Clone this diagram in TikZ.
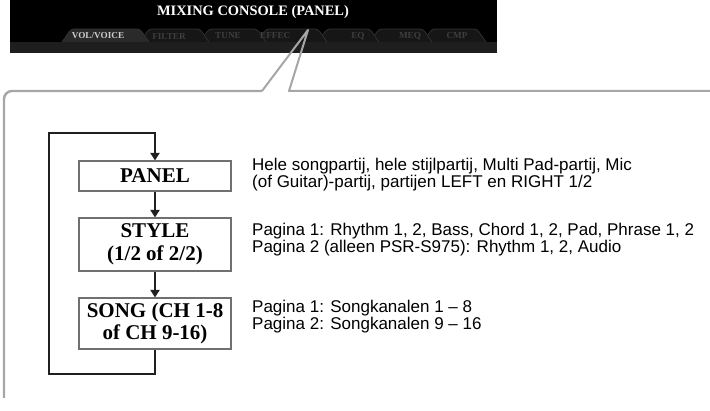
\documentclass[tikz,border=0pt]{standalone}
\usepackage{fontspec}
\setmainfont{Liberation Serif}
\newfontfamily\descfont{Liberation Sans}
\usetikzlibrary{arrows.meta}
\definecolor{framegray}{RGB}{166,166,166}
\definecolor{boxborder}{RGB}{112,112,112}
\definecolor{flowblack}{RGB}{35,31,32}
\definecolor{bandgray}{RGB}{30,30,30}
\definecolor{tabfill}{RGB}{22,22,22}
\definecolor{tabedge}{RGB}{48,48,48}
\definecolor{tabtext}{RGB}{62,62,62}
\definecolor{tabactive}{RGB}{42,42,42}
\definecolor{tabactivetext}{RGB}{205,205,205}

\tikzset{
    tabshape/.style={fill=tabfill, draw=tabedge, line width=0.8pt, rounded corners=3pt},
    tablabel/.style={text=tabtext, font=\fontsize{9.2}{10}\selectfont\bfseries, inner sep=0pt},
    modebox/.style={fill=white, draw=boxborder, line width=1.1pt, minimum width=152pt, align=center, inner sep=2pt, font=\fontsize{21}{22.5}\selectfont\bfseries},
    desc/.style={anchor=west, align=left, inner sep=0pt, font=\descfont\fontsize{17}{13.5}\selectfont},
    flow/.style={flowblack, line width=2.8pt, -{Triangle[length=7.5pt, width=9pt]}}
}

\begin{document}
\begin{tikzpicture}[x=1pt, y=-1pt]

% Page size
\useasboundingbox (0,0) rectangle (710,411);

% SCREEN STRIP
\fill[black] (10,0) rectangle (497,53);
\fill[bandgray] (10,42) rectangle (497,53);
\node[text=white, font=\fontsize{14.4}{15}\selectfont\bfseries] (title) at (253,12) {MIXING CONSOLE (PANEL)};

% Tabs (left to right, active one last)
\filldraw[tabshape] (423,42) -- (432,29) -- (477,29) -- (486,42);
\filldraw[tabshape] (370,42) -- (379,29) -- (423,29) -- (432,42);
\filldraw[tabshape] (318,42) -- (327,29) -- (370,29) -- (379,42);
\filldraw[tabshape] (257,42) -- (266,29) -- (318,29) -- (327,42);
\filldraw[tabshape] (200,42) -- (209,29) -- (257,29) -- (266,42);
\filldraw[tabshape] (140,42) -- (149,29) -- (200,29) -- (209,42);
\filldraw[tabshape, fill=tabactive] (62,42) -- (71,29) -- (140,29) -- (149,42);

\node[tablabel, text=tabactivetext] (tvol) at (98,36) {VOL/VOICE};
\node[tablabel] (tfilter) at (169,36) {FILTER};
\node[tablabel] (ttune) at (228,36) {TUNE};
\node[tablabel, anchor=west] (teffect) at (260,36) {EFFEC};
\node[tablabel] (teq) at (358,36) {EQ};
\node[tablabel] (tmeq) at (410,36) {MEQ};
\node[tablabel] (tcmp) at (457,36) {CMP};

% CALLOUT FRAME
\coordinate (apex) at (308,30);
\coordinate (pleft) at (262,91);
\coordinate (pright) at (289,91);
\draw[framegray, line width=2pt, line join=round] (710,91) -- (pright) -- (apex) -- (pleft);
\draw[framegray, line width=2.4pt, rounded corners=8pt] (pleft) -- (4,91) -- (4,398);

% MODE BOXES
\node[modebox, minimum height=30pt] (panel) at (155,176) {PANEL};
\node[modebox, minimum height=53pt] (style) at (155,244.5) {STYLE\\(1/2 of 2/2)};
\node[modebox, minimum height=51pt] (song) at (155,323.5) {SONG (CH 1-8\\of CH 9-16)};

% Flow arrows
\draw[flow] (panel.south) -- (style.north);
\draw[flow] (style.south) -- (song.north);

% Loop back to PANEL
\coordinate (loopbottom) at (49,374);
\coordinate (looptop) at (49,133);
\draw[flow, line join=miter] (song.south) |- (loopbottom) -- (looptop) -| (panel.north);

% DESCRIPTIONS
\node[desc] (panelinfo) at (252,175) {Hele songpartij, hele stijlpartij, Multi Pad-partij, Mic\\(of Guitar)-partij, partijen LEFT en RIGHT 1/2};
\node[desc] (styleinfo) at (252,240) {Pagina 1: Rhythm 1, 2, Bass, Chord 1, 2, Pad, Phrase 1, 2\\Pagina 2 (alleen PSR-S975): Rhythm 1, 2, Audio};
\node[desc] (songinfo) at (252,317) {Pagina 1: Songkanalen 1 – 8\\Pagina 2: Songkanalen 9 – 16};

\end{tikzpicture}
\end{document}
